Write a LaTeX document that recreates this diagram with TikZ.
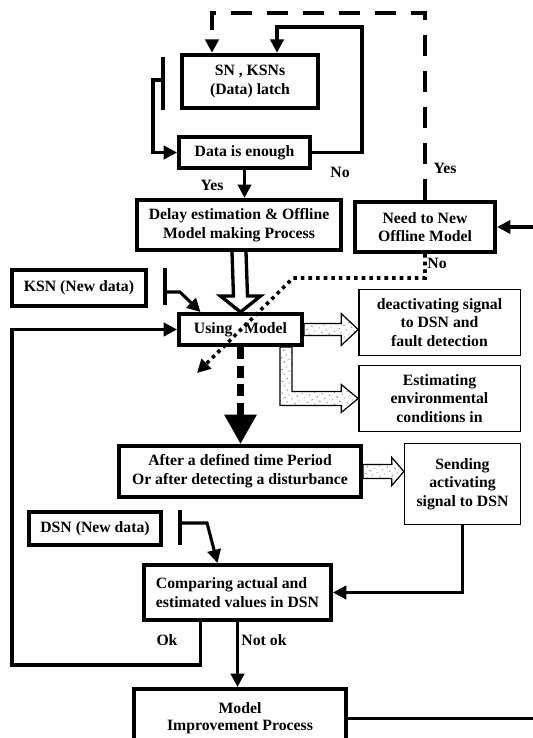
\documentclass[tikz,border=0pt]{standalone}
\usepackage{fontspec}
\setmainfont{Liberation Serif}
\usetikzlibrary{arrows.meta, positioning, calc, patterns.meta}

\begin{document}
\begin{tikzpicture}[
    x=0.75pt, y=-0.75pt,
    every node/.style={font=\bfseries\fontsize{11.8}{14}\selectfont},
    bigbox/.style={rectangle, draw, line width=3.2pt, align=center, inner sep=2pt},
    smallbox/.style={rectangle, draw, line width=1pt, align=center, inner sep=2pt},
    arr/.style={-{Triangle[length=10pt, width=10pt]}, line width=2.3pt},
    lnk/.style={line width=2.3pt},
    dsh/.style={-{Triangle[length=10pt, width=10pt]}, line width=2.8pt, dash pattern=on 16pt off 11pt},
    dot/.style={-{Triangle[length=10pt, width=10pt]}, line width=2.7pt, dash pattern=on 2.7pt off 3pt},
    bigdsh/.style={-{Triangle[length=22pt, width=23pt]}, line width=5pt, dash pattern=on 9pt off 5pt},
    fat/.style={draw, line width=0.9pt, pattern={Dots[radius=0.45pt, distance=4pt, angle=30]}},
    dbl/.style={draw, line width=2.5pt},
    lbl/.style={inner sep=1pt}
]
    \useasboundingbox (0,0) rectangle (532,738);

    % boxes
    \node[bigbox, minimum width=102pt, minimum height=40pt] (sn) at (250,81.5) {SN , KSNs\\(Data) latch};
    \node[bigbox, minimum width=98pt, minimum height=23pt] (enough) at (244.5,152.5) {Data is enough};
    \node[bigbox, minimum width=153pt, minimum height=37.5pt] (delay) at (239,225) {Delay estimation \& Offline\\Model making Process};
    \node[bigbox, minimum width=105pt, minimum height=37.5pt] (need) at (425,227) {Need to New\\Offline Model};
    \node[bigbox, minimum width=100pt, minimum height=27pt] (ksn) at (79,288) {KSN (New data)};
    \node[bigbox, minimum width=92pt, minimum height=23pt] (using) at (240.5,329.5) {Using \ \ Model};
    \node[smallbox, minimum width=121pt, minimum height=49.5pt] (deact) at (439.5,322.5) {deactivating signal\\to DSN and\\fault detection};
    \node[smallbox, minimum width=121pt, minimum height=49.5pt] (estim) at (439.5,398.5) {Estimating\\environmental\\conditions in};
    \node[bigbox, minimum width=181.5pt, minimum height=38pt] (after) at (240,471.5) {After a defined time Period\\Or after detecting a disturbance};
    \node[smallbox, minimum width=87pt, minimum height=61pt] (send) at (462.5,484) {Sending\\activating\\signal to DSN};
    \node[bigbox, minimum width=99pt, minimum height=25pt] (dsn) at (95,528.5) {DSN (New data)};
    \node[bigbox, minimum width=140pt, minimum height=41pt, align=left] (comp) at (237.5,592.5) {Comparing actual and\\estimated values in DSN};
    \node[bigbox, minimum width=159pt, minimum height=44pt, anchor=north, font=\bfseries\fontsize{11.8}{13}\selectfont] (improve) at (240,687) {Model\\Improvement Process};

    % labels
    \node[lbl] (yes1) at (212,185) {Yes};
    \node[lbl] (no1) at (340,172) {No};
    \node[lbl] (yes2) at (445,168) {Yes};
    \node[lbl] (no2) at (437,263) {No};
    \node[lbl] (ok) at (167,640) {Ok};
    \node[lbl] (notok) at (264,640) {Not ok};

    % helper points
    \coordinate (dtop) at (0,13);
    \coordinate (loopR) at (362,27);
    \coordinate (snbarT) at (163,57);
    \coordinate (snbarB) at (163,110);
    \coordinate (snbar) at (163,80);
    \coordinate (ksnbarT) at (165,268);
    \coordinate (ksnbarB) at (165,305);
    \coordinate (ksnbar) at (165,292);
    \coordinate (dsnbarT) at (180,510);
    \coordinate (dsnbarB) at (180,545);
    \coordinate (dsnbar) at (180,523);
    \coordinate (dotbend) at (293,278);
    \coordinate (dotend) at (197,373);
    \coordinate (okcorner) at (12,665);
    \coordinate (offR) at (560,227);

    % data collection loop
    \draw[dsh] (need.north) -- (need.north |- dtop) -| ($(sn.north)+(-38,0)$);
    \draw[arr] (enough.east) -| (loopR) -| ($(sn.north)+(27,0)$);
    \draw[lnk] (snbarT) -- (snbarB);
    \draw[arr] (snbar) -- ++(-10,0) |- (enough.west);
    \draw[arr] (enough.south) -- (enough.south |- delay.north);

    % offline model into use
    \draw[dbl] ($(delay.south)+(-7,0)$) -- ($(using.north)+(-7,-16)$) -- ($(using.north)+(-20,-16)$)
        -- (using.north) -- ($(using.north)+(20,-16)$) -- ($(using.north)+(7,-16)$) -- ($(delay.south)+(7,0)$);
    \draw[lnk] (ksnbarT) -- (ksnbarB);
    \draw[arr] (ksnbar) -- ++(15,0) -- ($(using.north)+(-40,0)$);
    \draw[dot] (need.south) |- (dotbend) -- (dotend);

    % outputs of the model
    \coordinate (tipA) at (deact.west |- using.east);
    \draw[fat] ($(using.east)+(0,-6)$) -- ($(tipA)+(-17,-6)$) -- ($(tipA)+(-17,-16)$) -- (tipA)
        -- ($(tipA)+(-17,16)$) -- ($(tipA)+(-17,6)$) -- ($(using.east)+(0,6)$) -- cycle;
    \coordinate (lc) at ($(using.south east)+(-18,0)$);
    \coordinate (lk) at (lc |- estim.west);
    \draw[fat] ($(lc)+(-6,0)$) -- ($(lk)+(-6,7)$) -- ($(estim.west)+(-17,7)$) -- ($(estim.west)+(-17,14)$)
        -- (estim.west) -- ($(estim.west)+(-17,-14)$) -- ($(estim.west)+(-17,-7)$) -- ($(lk)+(6,-7)$)
        -- ($(lc)+(6,0)$) -- cycle;
    \draw[bigdsh] (using.south) -- (using.south |- after.north);
    \coordinate (tipC) at (send.west |- after.east);
    \draw[fat] ($(after.east)+(0,-7)$) -- ($(tipC)+(-12,-7)$) -- ($(tipC)+(-12,-14)$) -- (tipC)
        -- ($(tipC)+(-12,14)$) -- ($(tipC)+(-12,7)$) -- ($(after.east)+(0,7)$) -- cycle;

    % checking with DSN
    \draw[arr] (send.south) |- (comp.east);
    \draw[lnk] (dsnbarT) -- (dsnbarB);
    \draw[arr] (dsnbar) -- ++(27,0) -- ($(comp.north)+(-20,0)$);
    \draw[arr] ($(comp.south)+(-37,0)$) |- (okcorner) |- (using.west);
    \draw[arr] (comp.south) -- (comp.south |- improve.north);
    \draw[arr] (improve.east) -| (offR) -- (need.east);
\end{tikzpicture}
\end{document}
